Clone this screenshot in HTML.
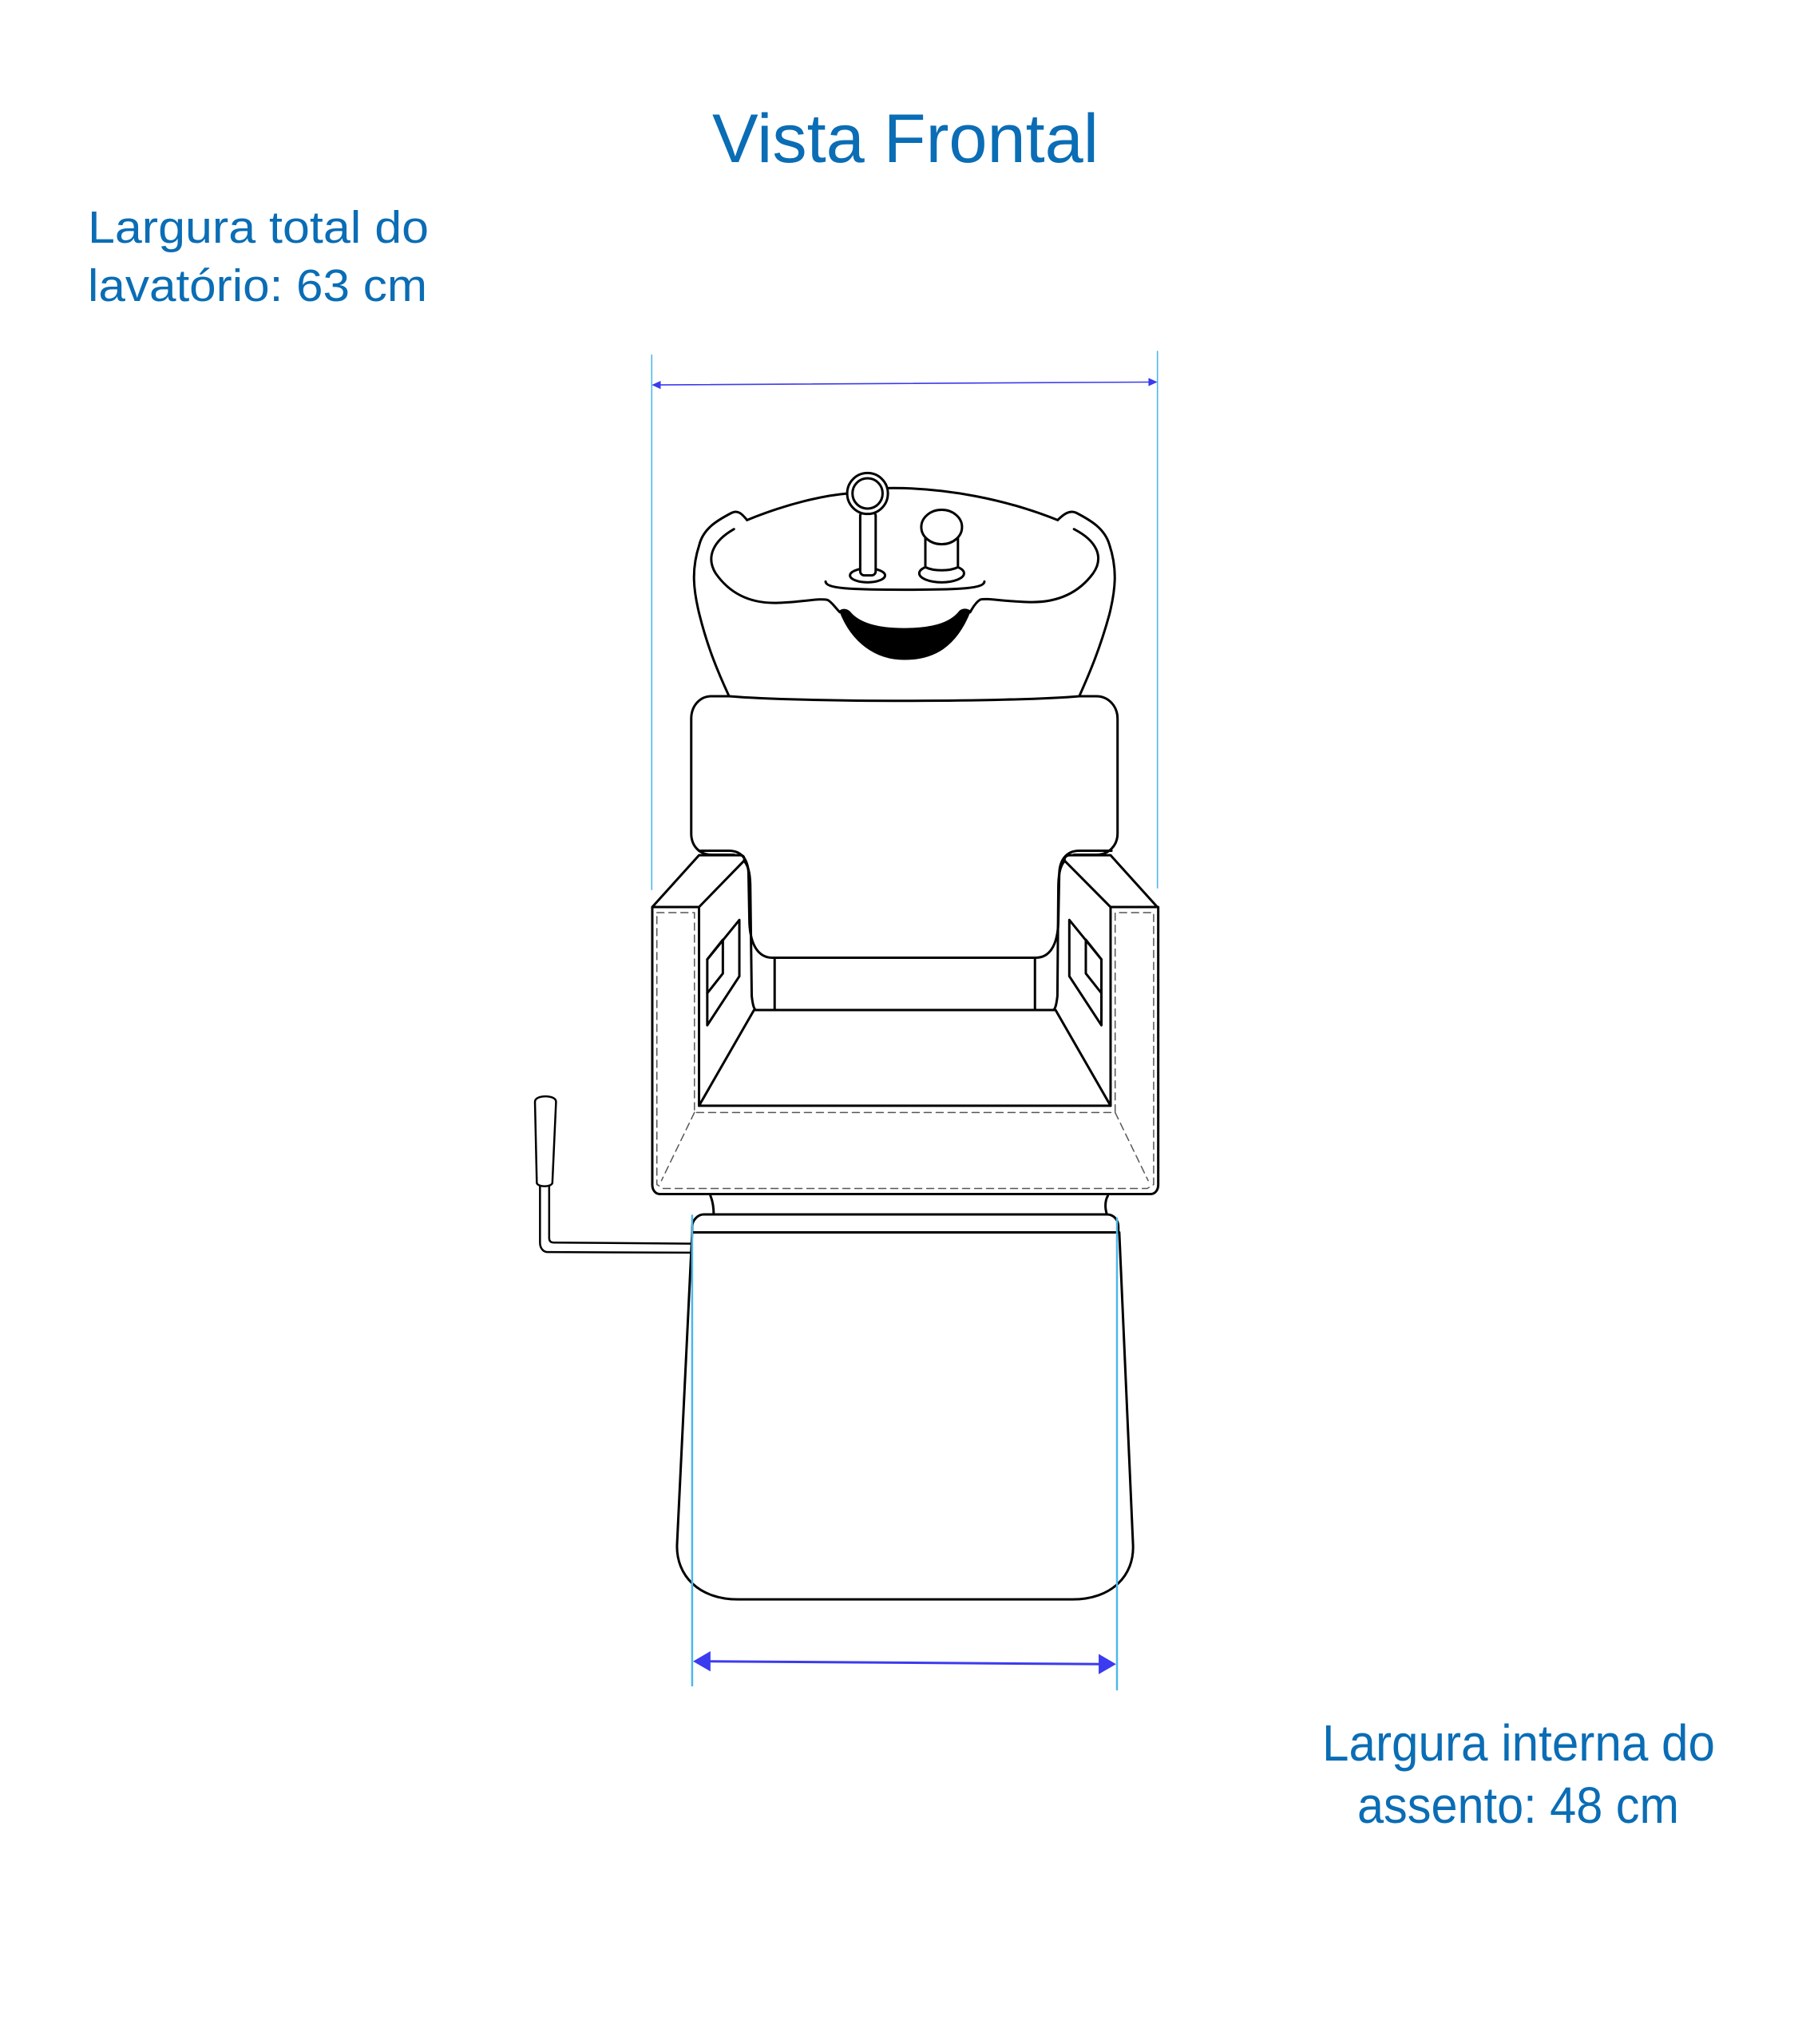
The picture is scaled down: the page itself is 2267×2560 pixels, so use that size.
<!DOCTYPE html>
<html><head><meta charset="utf-8"><style>
html,body{margin:0;padding:0;background:#fff;}
svg{display:block;}
text{font-family:"Liberation Sans",sans-serif;fill:#0a6db5;}
.l *,.u *{vector-effect:non-scaling-stroke;}
</style></head><body>
<svg width="2267" height="2560" viewBox="0 0 2267 2560" xmlns="http://www.w3.org/2000/svg">
<text x="892" y="203" font-size="86" textLength="484" lengthAdjust="spacingAndGlyphs">Vista Frontal</text>
<text x="110" y="304" font-size="57" textLength="427" lengthAdjust="spacingAndGlyphs">Largura total do</text>
<text x="110" y="377" font-size="57" textLength="425" lengthAdjust="spacingAndGlyphs">lavatório: 63 cm</text>
<text x="1656" y="2205" font-size="64" textLength="492" lengthAdjust="spacingAndGlyphs">Largura interna do</text>
<text x="1700" y="2283" font-size="64" textLength="403" lengthAdjust="spacingAndGlyphs">assento: 48 cm</text>

<g class="u" transform="translate(700,400) scale(0.51,0.513)" fill="none" stroke="#000" stroke-width="3" stroke-linejoin="round" stroke-linecap="round">
  <line x1="228" y1="87" x2="228" y2="1392" stroke="#4db8ea" stroke-width="1.6"/>
  <line x1="1470" y1="78" x2="1470" y2="1388" stroke="#4db8ea" stroke-width="1.6"/>
  <line x1="240" y1="160" x2="1455" y2="153" stroke="#3b3bef" stroke-width="1.6"/>
  <polygon points="228,160 250,150 250,170" fill="#3b3bef" stroke="none"/>
  <polygon points="1470,153 1448,143 1448,163" fill="#3b3bef" stroke="none"/>
  <path d="M462,490 C560,450 650,430 710,425"/>
  <path d="M808,412 C950,410 1100,440 1225,490"/>
  <path d="M462,490 C450,475 440,465 425,472 C390,490 355,510 345,550 C325,610 330,660 345,720 C365,800 390,860 418,920"/>
  <path d="M1225,490 C1240,475 1255,465 1270,472 C1305,490 1340,510 1352,550 C1372,610 1367,660 1352,720 C1330,800 1305,860 1278,920"/>
  <path d="M430,512 C380,540 360,580 385,620 C420,670 470,695 540,692 C600,690 640,680 660,685 C670,690 680,705 690,715"/>
  <path d="M1265,512 C1320,540 1340,580 1312,620 C1275,670 1220,693 1150,690 C1090,688 1050,680 1035,684 C1025,690 1018,700 1010,715"/>
  <path d="M690,712 C720,790 780,830 848,830 C920,830 975,800 1010,712 C1000,705 990,708 985,712 C960,745 910,755 848,755 C790,755 740,745 715,715 C708,708 698,706 690,712 Z" fill="#000" stroke-width="1.5"/>
  <path d="M655,640 C655,660 750,660 850,660 C950,660 1045,660 1045,640"/>
  <ellipse cx="758" cy="625" rx="43" ry="17"/>
  <rect x="740" y="470" width="38" height="155" rx="10" fill="#fff"/>
  <circle cx="758" cy="425" r="50" fill="#fff"/>
  <circle cx="758" cy="425" r="37"/>
  <ellipse cx="940" cy="620" rx="55" ry="22"/>
  <path d="M900,530 L900,605 C920,615 960,615 980,605 L980,530" fill="#fff"/>
  <ellipse cx="940" cy="507" rx="50" ry="42" fill="#fff"/>
  <path d="M418,920 L375,920 C345,920 325,945 325,975 L325,1255 C325,1285 345,1307 375,1307 L430,1307"/>
  <path d="M418,920 C600,935 1100,935 1278,920 L1320,920 C1350,920 1372,945 1372,975 L1372,1255 C1372,1285 1350,1307 1320,1307 L1265,1307"/>
</g>

<g class="l" transform="translate(600,1050) scale(0.574,0.705)" fill="none" stroke="#000" stroke-width="3" stroke-linejoin="round" stroke-linecap="round">
  <path d="M480,22 L545,22 C575,22 588,40 588,65 L590,150 C592,190 610,212 640,212 L1215,212 C1245,212 1262,190 1264,150 L1266,65 C1266,40 1280,22 1310,22 L1380,22"/>
  <path d="M578,40 C590,50 592,70 592,90 L595,280 C597,295 600,305 605,305"/>
  <path d="M1278,40 C1266,50 1264,70 1264,90 L1262,280 C1260,295 1257,305 1252,305"/>
  <line x1="645" y1="212" x2="645" y2="305"/>
  <line x1="1213" y1="212" x2="1213" y2="305"/>
  <path d="M378,122 L480,30 L570,30 C578,30 580,35 578,40 L480,122 Z"/>
  <path d="M1480,122 L1378,30 L1290,30 C1280,30 1276,35 1278,40 L1378,122 Z"/>
  <path d="M378,122 L378,615 C378,625 385,632 395,632 L1465,632 C1475,632 1482,625 1482,615 L1482,122"/>
  <line x1="480" y1="122" x2="480" y2="475"/>
  <line x1="1378" y1="122" x2="1378" y2="475"/>
  <path d="M600,305 L1258,305 L1378,475 L480,475 Z"/>
  <path d="M498,215 L568,145 L568,245 L498,332 Z"/>
  <path d="M498,215 L532,180 L532,240 L498,275"/>
  <path d="M1358,215 L1288,145 L1288,245 L1358,332 Z"/>
  <path d="M1358,215 L1324,180 L1324,240 L1358,275"/>
  <g stroke="#555" stroke-width="1.5" stroke-dasharray="9,6">
    <path d="M388,132 L470,132 L470,487 L1388,487 L1388,132 L1472,132 L1472,615 L1458,622 L402,622 L388,615 Z"/>
    <line x1="470" y1="487" x2="398" y2="608"/>
    <line x1="1388" y1="487" x2="1460" y2="608"/>
  </g>
  <path d="M505,635 C510,645 512,658 512,668"/>
  <path d="M1372,635 C1365,645 1366,658 1370,668"/>
  <path d="M465,700 L465,690 C465,678 478,668 490,668 L1370,668 C1385,668 1395,678 1395,690 L1395,700"/>
  <line x1="465" y1="700" x2="1395" y2="700"/>
  <path d="M465,700 L432,1255 C430,1310 480,1352 565,1352 L1295,1352 C1380,1352 1430,1310 1427,1255 L1397,700"/>
  <path d="M122,468 C122,455 168,455 168,468 L160,612 C158,620 128,620 126,612 Z" stroke-width="2.5"/>
  <path d="M133,618 L133,718 C133,728 140,735 150,735 L462,736" stroke-width="2.5"/>
  <path d="M153,618 L153,710 C153,715 156,718 162,718 L462,720" stroke-width="2.5"/>
  <line x1="465" y1="670" x2="465" y2="1505" stroke="#4db8ea" stroke-width="2.5"/>
  <line x1="1392" y1="675" x2="1392" y2="1512" stroke="#4db8ea" stroke-width="2.5"/>
  <line x1="490" y1="1462" x2="1365" y2="1467" stroke="#3b3bef" stroke-width="3"/>
  <polygon points="467,1462 505,1444 505,1480" fill="#3b3bef" stroke="none"/>
  <polygon points="1390,1467 1352,1449 1352,1485" fill="#3b3bef" stroke="none"/>
</g>
</svg>
</body></html>
